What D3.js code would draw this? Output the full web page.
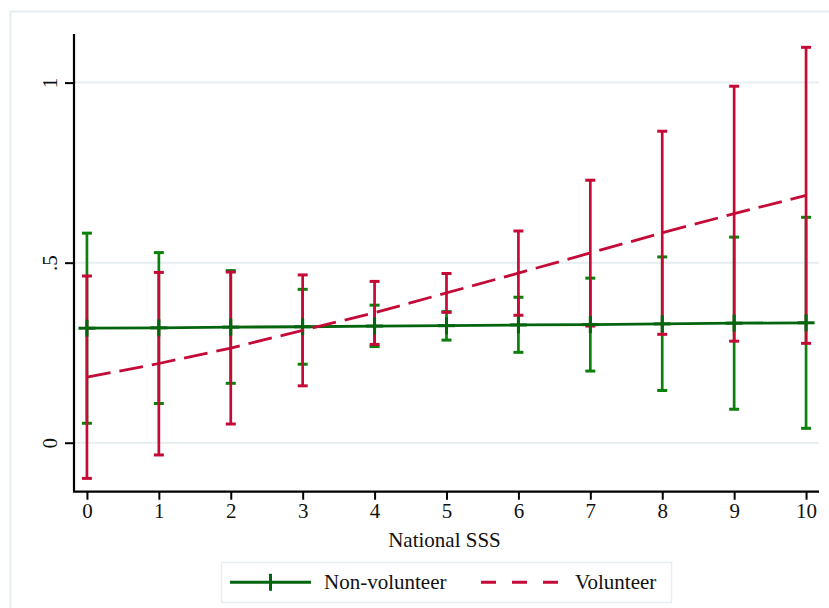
<!DOCTYPE html>
<html>
<head>
<meta charset="utf-8">
<script src="https://cdn.jsdelivr.net/npm/d3@7"></script>
<style>
  body { margin: 0; background: #fff; }
  svg { display: block; }
  text { font-family: "Liberation Serif", "Times New Roman", serif; fill: #111; }
</style>
</head>
<body>
<div id="chart"></div>
<script>
"use strict";

// National SSS values on the x axis
var sss = [0, 1, 2, 3, 4, 5, 6, 7, 8, 9, 10];

// Non-volunteer: estimate and 95% CI
var nonVolEst   = [0.318, 0.319, 0.321, 0.322, 0.324, 0.325, 0.327, 0.328, 0.330, 0.332, 0.333];
var nonVolLower = [0.054, 0.109, 0.165, 0.218, 0.267, 0.285, 0.251, 0.199, 0.145, 0.093, 0.040];
var nonVolUpper = [0.582, 0.528, 0.478, 0.426, 0.382, 0.364, 0.404, 0.457, 0.516, 0.571, 0.626];

// Volunteer: estimate and 95% CI
var volEst   = [0.182, 0.220, 0.263, 0.312, 0.361, 0.416, 0.471, 0.527, 0.583, 0.636, 0.687];
var volLower = [-0.099, -0.034, 0.052, 0.158, 0.273, 0.362, 0.354, 0.324, 0.301, 0.282, 0.276];
var volUpper = [0.463, 0.473, 0.474, 0.466, 0.448, 0.470, 0.588, 0.729, 0.865, 0.990, 1.098];

var yTicks = [0, 0.5, 1];
var yTickLabels = ["0", ".5", "1"];
var seriesNames = ["Non-volunteer", "Volunteer"];

var W = 829, H = 608;
var green = "#0b800b", dkgreen = "#05650f", red = "#c40a36";
var gridColor = "#e6eef1";

var svg = d3.select("#chart").append("svg").attr("width", W).attr("height", H);

// outer graph region border
svg.append("rect")
  .attr("x", 10.5).attr("y", 11.5).attr("width", W).attr("height", H)
  .attr("fill", "none").attr("stroke", gridColor).attr("stroke-width", 2);

var x = d3.scaleLinear().domain([-0.18, 10.18]).range([74, 819]);
var y = d3.scaleLinear().domain([-0.136, 1.135]).range([491.7, 34]);

// gridlines
svg.append("g").selectAll("line").data(yTicks).join("line")
  .attr("x1", x.range()[0]).attr("x2", x.range()[1])
  .attr("y1", function (d) { return y(d); }).attr("y2", function (d) { return y(d); })
  .attr("stroke", gridColor).attr("stroke-width", 2);

// y axis
var yAxis = d3.axisLeft(y).tickValues(yTicks).tickSize(9)
  .tickFormat(function (d, i) { return yTickLabels[i]; });
var gy = svg.append("g").attr("transform", "translate(74,0)").call(yAxis);
gy.select(".domain").attr("stroke", "#000").attr("stroke-width", 2.2)
  .attr("d", "M0," + y.range()[0] + "V" + y.range()[1]);
gy.selectAll(".tick line").attr("stroke", "#000").attr("stroke-width", 2);
gy.selectAll(".tick text")
  .attr("font-size", 21).attr("x", 0).attr("dy", 0).attr("y", 0)
  .attr("text-anchor", "middle")
  .attr("transform", "translate(-17,0) rotate(-90)");

// x axis
var xAxis = d3.axisBottom(x).tickValues(sss).tickSize(8).tickFormat(d3.format("d"));
var gx = svg.append("g").attr("transform", "translate(0,491.7)").call(xAxis);
gx.select(".domain").attr("stroke", "#000").attr("stroke-width", 2.2)
  .attr("d", "M" + (x.range()[0] - 1) + ",0H" + x.range()[1]);
gx.selectAll(".tick line").attr("stroke", "#000").attr("stroke-width", 2);
gx.selectAll(".tick text").attr("font-size", 21).attr("y", 11).attr("dy", "0.71em");

svg.append("text")
  .attr("x", (x.range()[0] + x.range()[1]) / 2 - 2).attr("y", 547)
  .attr("text-anchor", "middle").attr("font-size", 21)
  .text("National SSS");

// error bars
function drawCaps(lower, upper, color) {
  var g = svg.append("g").attr("stroke", color).attr("stroke-width", 2.7);
  g.selectAll("line.bar").data(sss).join("line")
    .attr("x1", function (d) { return x(d); }).attr("x2", function (d) { return x(d); })
    .attr("y1", function (d, i) { return y(lower[i]); })
    .attr("y2", function (d, i) { return y(upper[i]); });
  [lower, upper].forEach(function (arr) {
    g.append("g").selectAll("line").data(sss).join("line")
      .attr("x1", function (d) { return x(d) - 5; }).attr("x2", function (d) { return x(d) + 5; })
      .attr("y1", function (d, i) { return y(arr[i]); })
      .attr("y2", function (d, i) { return y(arr[i]); })
      .attr("stroke-width", 3);
  });
}

drawCaps(nonVolLower, nonVolUpper, green);
drawCaps(volLower, volUpper, red);

var line = d3.line()
  .x(function (d) { return x(d[0]); })
  .y(function (d) { return y(d[1]); });

// non-volunteer line with plus markers
svg.append("path")
  .datum(sss.map(function (d, i) { return [d, nonVolEst[i]]; }))
  .attr("d", line).attr("fill", "none")
  .attr("stroke", dkgreen).attr("stroke-width", 2.8);
var plus = svg.append("g").attr("stroke", dkgreen).attr("stroke-width", 3);
plus.selectAll("line.v").data(sss).join("line")
  .attr("x1", function (d) { return x(d); }).attr("x2", function (d) { return x(d); })
  .attr("y1", function (d, i) { return y(nonVolEst[i]) - 8.5; })
  .attr("y2", function (d, i) { return y(nonVolEst[i]) + 8.5; });
plus.append("g").selectAll("line").data(sss).join("line")
  .attr("x1", function (d) { return x(d) - 8.5; }).attr("x2", function (d) { return x(d) + 8.5; })
  .attr("y1", function (d, i) { return y(nonVolEst[i]); })
  .attr("y2", function (d, i) { return y(nonVolEst[i]); });

// volunteer dashed line
svg.append("path")
  .datum(sss.map(function (d, i) { return [d, volEst[i]]; }))
  .attr("d", line).attr("fill", "none")
  .attr("stroke", red).attr("stroke-width", 2.8)
  .attr("stroke-dasharray", "24,9");

// legend
var lg = svg.append("g");
lg.append("rect")
  .attr("x", 221.5).attr("y", 562.5).attr("width", 450).attr("height", 40)
  .attr("fill", "#fff").attr("stroke", gridColor).attr("stroke-width", 1.5);
var ly = 582.3;
lg.append("line").attr("x1", 230).attr("x2", 311).attr("y1", ly).attr("y2", ly)
  .attr("stroke", dkgreen).attr("stroke-width", 3);
lg.append("line").attr("x1", 270.5).attr("x2", 270.5).attr("y1", ly - 8.5).attr("y2", ly + 8.5)
  .attr("stroke", dkgreen).attr("stroke-width", 3);
lg.append("text").attr("x", 324).attr("y", ly + 7).attr("font-size", 21).text(seriesNames[0]);
lg.append("line").attr("x1", 481).attr("x2", 562).attr("y1", ly).attr("y2", ly)
  .attr("stroke", red).attr("stroke-width", 3).attr("stroke-dasharray", "15,16");
lg.append("text").attr("x", 575).attr("y", ly + 7).attr("font-size", 21).text(seriesNames[1]);
</script>
</body>
</html>
